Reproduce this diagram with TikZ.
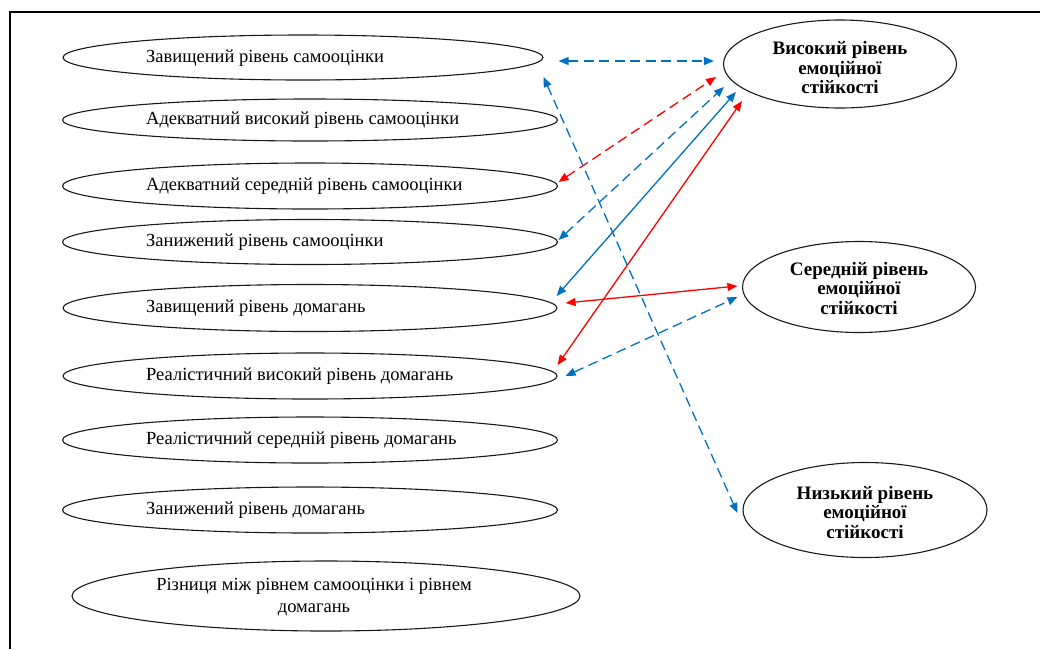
\documentclass[tikz,border=0pt]{standalone}
\usepackage{fontspec}
\setmainfont{Liberation Serif}
\usetikzlibrary{shapes.geometric,arrows.meta,calc}
\definecolor{linkblue}{RGB}{0,112,192}
\definecolor{linkred}{RGB}{255,0,0}

\begin{document}
\begin{tikzpicture}[x=1pt,y=-1pt,
  oval/.style={ellipse, draw=black!90, line width=1.1pt, inner sep=0pt},
  lefttxt/.style={anchor=mid west, inner sep=0pt, font=\fontsize{18.5}{21}\selectfont},
  bigtxt/.style={align=center, inner sep=0pt, font=\fontsize{19}{19.5}\selectfont\bfseries},
  link/.style={line width=1.3pt, {Triangle[length=10pt,width=8pt]}-{Triangle[length=10pt,width=8pt]}},
  dashlink/.style={link, dash pattern=on 10pt off 5.5pt},
]
\useasboundingbox (0,0) rectangle (1040,649);

% frame
\draw[line width=1.6pt] (10,649) -- (10,12) -- (1040,12);

% left column: self-esteem and aspiration levels
\node[oval, minimum width=480pt, minimum height=45pt] (e1) at (303,57.5) {};
\node[oval, minimum width=495pt, minimum height=42pt] (e2) at (310,120) {};
\node[oval, minimum width=495pt, minimum height=46pt] (e3) at (310,186) {};
\node[oval, minimum width=495pt, minimum height=45pt] (e4) at (310,242) {};
\node[oval, minimum width=494pt, minimum height=47pt] (e5) at (310,308) {};
\node[oval, minimum width=494pt, minimum height=46pt] (e6) at (310,376) {};
\node[oval, minimum width=495pt, minimum height=46pt] (e7) at (310,440) {};
\node[oval, minimum width=495pt, minimum height=46pt] (e8) at (310,510) {};
\node[oval, minimum width=508pt, minimum height=70pt] (e9) at (326,596) {};

\node[lefttxt] (t1) at (146,60) {Завищений рівень самооцінки};
\node[lefttxt] (t2) at (146,122.5) {Адекватний високий рівень самооцінки};
\node[lefttxt] (t3) at (146,188.5) {Адекватний середній рівень самооцінки};
\node[lefttxt] (t4) at (146,244.5) {Занижений рівень самооцінки};
\node[lefttxt] (t5) at (146,310.5) {Завищений рівень домагань};
\node[lefttxt] (t6) at (146,378.5) {Реалістичний високий рівень домагань};
\node[lefttxt] (t7) at (146,442.5) {Реалістичний середній рівень домагань};
\node[lefttxt] (t8) at (146,512.5) {Занижений рівень домагань};
\node[align=center, inner sep=0pt, font=\fontsize{18.5}{22}\selectfont] (t9) at (314,597)
  {Різниця між рівнем самооцінки і рівнем\\домагань};

% right column: emotional stability levels
\node[oval, minimum width=233pt, minimum height=88pt] (hi) at (840,64) {};
\node[oval, minimum width=233pt, minimum height=91pt] (mid) at (859,287) {};
\node[oval, minimum width=244pt, minimum height=95pt] (lo) at (865,510) {};
\node[bigtxt] (thi) at (840,67.5) {Високий рівень\\емоційної\\стійкості};
\node[bigtxt] (tmid) at (859,288) {Середній рівень\\емоційної\\стійкості};
\node[bigtxt] (tlo) at (865,512) {Низький рівень\\емоційної\\стійкості};

% connections
\draw[dashlink, linkblue] ($(e1.east)+(15,3.5)$) -- ($(hi.west)+(-9,-3)$);
\draw[dashlink, linkred]  ($(e3.east)+(0.5,-4)$) -- ($(hi.west)+(-7,13)$);
\draw[dashlink, linkblue] ($(e4.east)+(0.5,-2)$) -- ($(hi.west)+(1,23)$);
\draw[link, linkblue]     ($(e5.east)+(-1,-12)$) -- ($(hi.west)+(13,28)$);
\draw[link, linkred]      ($(e6.east)+(0,-11)$) -- ($(hi.west)+(19,37)$);
\draw[link, linkred]      ($(e5.east)+(8,-5)$) -- ($(mid.west)+(-4.5,-1)$);
\draw[dashlink, linkblue] ($(e6.east)+(8,0)$) -- ($(mid.west)+(-4.5,10)$);
\draw[dashlink, linkblue] ($(e1.east)+(0,19.5)$) -- ($(lo.west)+(-5,3)$);
\end{tikzpicture}
\end{document}
